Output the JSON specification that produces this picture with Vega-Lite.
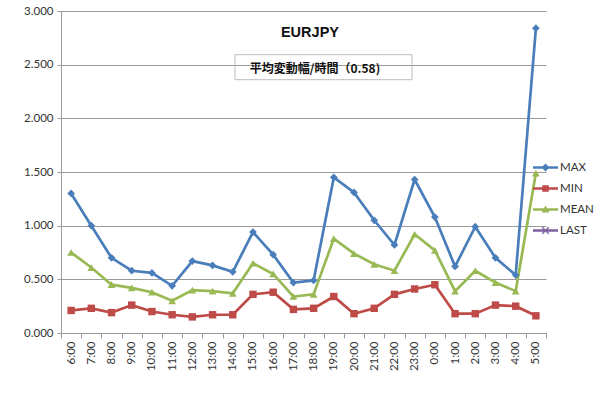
{
  "$schema": "https://vega.github.io/schema/vega-lite/v6.json",
  "autosize": {"type": "none"},
  "width": 485,
  "height": 322,
  "padding": {"left": 61, "top": 11, "right": 54, "bottom": 61},
  "background": "white",
  "config": {
    "view": {"stroke": null},
    "font": "Lato",
    "axis": {"labelFont": "Lato", "labelFontSize": 11.5, "labelColor": "#333333", "domainColor": "#9a9a9a", "tickColor": "#9a9a9a", "gridColor": "#9a9a9a", "title": null}
  },
  "data": {"name": "series", "values": [
    {"time": "6:00", "series": "MAX", "value": 1.30},
    {"time": "7:00", "series": "MAX", "value": 1.00},
    {"time": "8:00", "series": "MAX", "value": 0.70},
    {"time": "9:00", "series": "MAX", "value": 0.58},
    {"time": "10:00", "series": "MAX", "value": 0.56},
    {"time": "11:00", "series": "MAX", "value": 0.44},
    {"time": "12:00", "series": "MAX", "value": 0.67},
    {"time": "13:00", "series": "MAX", "value": 0.63},
    {"time": "14:00", "series": "MAX", "value": 0.57},
    {"time": "15:00", "series": "MAX", "value": 0.94},
    {"time": "16:00", "series": "MAX", "value": 0.73},
    {"time": "17:00", "series": "MAX", "value": 0.47},
    {"time": "18:00", "series": "MAX", "value": 0.49},
    {"time": "19:00", "series": "MAX", "value": 1.45},
    {"time": "20:00", "series": "MAX", "value": 1.31},
    {"time": "21:00", "series": "MAX", "value": 1.05},
    {"time": "22:00", "series": "MAX", "value": 0.82},
    {"time": "23:00", "series": "MAX", "value": 1.43},
    {"time": "0:00", "series": "MAX", "value": 1.08},
    {"time": "1:00", "series": "MAX", "value": 0.62},
    {"time": "2:00", "series": "MAX", "value": 0.99},
    {"time": "3:00", "series": "MAX", "value": 0.70},
    {"time": "4:00", "series": "MAX", "value": 0.54},
    {"time": "5:00", "series": "MAX", "value": 2.84},
    {"time": "6:00", "series": "MIN", "value": 0.21},
    {"time": "7:00", "series": "MIN", "value": 0.23},
    {"time": "8:00", "series": "MIN", "value": 0.19},
    {"time": "9:00", "series": "MIN", "value": 0.26},
    {"time": "10:00", "series": "MIN", "value": 0.20},
    {"time": "11:00", "series": "MIN", "value": 0.17},
    {"time": "12:00", "series": "MIN", "value": 0.15},
    {"time": "13:00", "series": "MIN", "value": 0.17},
    {"time": "14:00", "series": "MIN", "value": 0.17},
    {"time": "15:00", "series": "MIN", "value": 0.36},
    {"time": "16:00", "series": "MIN", "value": 0.38},
    {"time": "17:00", "series": "MIN", "value": 0.22},
    {"time": "18:00", "series": "MIN", "value": 0.23},
    {"time": "19:00", "series": "MIN", "value": 0.34},
    {"time": "20:00", "series": "MIN", "value": 0.18},
    {"time": "21:00", "series": "MIN", "value": 0.23},
    {"time": "22:00", "series": "MIN", "value": 0.36},
    {"time": "23:00", "series": "MIN", "value": 0.41},
    {"time": "0:00", "series": "MIN", "value": 0.45},
    {"time": "1:00", "series": "MIN", "value": 0.18},
    {"time": "2:00", "series": "MIN", "value": 0.18},
    {"time": "3:00", "series": "MIN", "value": 0.26},
    {"time": "4:00", "series": "MIN", "value": 0.25},
    {"time": "5:00", "series": "MIN", "value": 0.16},
    {"time": "6:00", "series": "MEAN", "value": 0.75},
    {"time": "7:00", "series": "MEAN", "value": 0.61},
    {"time": "8:00", "series": "MEAN", "value": 0.45},
    {"time": "9:00", "series": "MEAN", "value": 0.42},
    {"time": "10:00", "series": "MEAN", "value": 0.38},
    {"time": "11:00", "series": "MEAN", "value": 0.30},
    {"time": "12:00", "series": "MEAN", "value": 0.40},
    {"time": "13:00", "series": "MEAN", "value": 0.39},
    {"time": "14:00", "series": "MEAN", "value": 0.37},
    {"time": "15:00", "series": "MEAN", "value": 0.65},
    {"time": "16:00", "series": "MEAN", "value": 0.55},
    {"time": "17:00", "series": "MEAN", "value": 0.34},
    {"time": "18:00", "series": "MEAN", "value": 0.36},
    {"time": "19:00", "series": "MEAN", "value": 0.88},
    {"time": "20:00", "series": "MEAN", "value": 0.74},
    {"time": "21:00", "series": "MEAN", "value": 0.64},
    {"time": "22:00", "series": "MEAN", "value": 0.58},
    {"time": "23:00", "series": "MEAN", "value": 0.92},
    {"time": "0:00", "series": "MEAN", "value": 0.77},
    {"time": "1:00", "series": "MEAN", "value": 0.39},
    {"time": "2:00", "series": "MEAN", "value": 0.58},
    {"time": "3:00", "series": "MEAN", "value": 0.47},
    {"time": "4:00", "series": "MEAN", "value": 0.39},
    {"time": "5:00", "series": "MEAN", "value": 1.49}
  ]},
  "layer": [
    {
      "mark": {"type": "line", "strokeWidth": 2.7},
      "encoding": {
        "x": {"field": "time", "type": "nominal",
          "scale": {"type": "band", "paddingInner": 0, "paddingOuter": 0,
            "domain": ["6:00","7:00","8:00","9:00","10:00","11:00","12:00","13:00","14:00","15:00","16:00","17:00","18:00","19:00","20:00","21:00","22:00","23:00","0:00","1:00","2:00","3:00","4:00","5:00"]},
          "axis": {"labelAngle": 270, "tickBand": "extent", "tickSize": 5, "labelPadding": 3, "grid": false}},
        "y": {"field": "value", "type": "quantitative",
          "scale": {"domain": [0, 3], "nice": false},
          "axis": {"values": [0, 0.5, 1, 1.5, 2, 2.5, 3], "format": ".3f", "tickSize": 4, "labelPadding": 4, "grid": true}},
        "color": {"field": "series", "type": "nominal",
          "scale": {"domain": ["MAX", "MIN", "MEAN", "LAST"], "range": ["#4A7EBB", "#BE4B48", "#98B954", "#7D60A0"]},
          "legend": {
            "title": null, "orient": "none", "legendX": 472, "legendY": 144,
            "symbolSize": 625, "rowPadding": 3, "labelOffset": 2,
            "labelFont": "Lato", "labelFontSize": 11.5, "labelColor": "#333333",
            "encode": {"symbols": {"update": {
              "shape": {"signal": "datum.value == 'MAX' ? 'M-1,-0.1H1V0.1H-1Z M0,-0.32L0.32,0L0,0.32L-0.32,0Z' : datum.value == 'MIN' ? 'M-1,-0.1H1V0.1H-1Z M-0.26,-0.26H0.26V0.26H-0.26Z' : datum.value == 'MEAN' ? 'M-1,-0.1H1V0.1H-1Z M0,-0.32L0.32,0.24L-0.32,0.24Z' : 'M-1,-0.1H1V0.1H-1Z M-0.3,-0.22L-0.22,-0.3L0.3,0.22L0.22,0.3Z M0.22,-0.3L0.3,-0.22L-0.22,0.3L-0.3,0.22Z'"},
              "fill": {"signal": "scale('color', datum.value)"},
              "fillOpacity": {"value": 1},
              "strokeWidth": {"value": 0}
            }}},
            "labelLimit": 60
          }}
      }
    },
    {
      "transform": [{"filter": "datum.series == 'MAX'"}],
      "mark": {"type": "point", "filled": true, "size": 60, "opacity": 1, "shape": "diamond"},
      "encoding": {
        "x": {"field": "time", "type": "nominal"},
        "y": {"field": "value", "type": "quantitative"},
        "color": {"field": "series", "type": "nominal"}
      }
    },
    {
      "transform": [{"filter": "datum.series == 'MIN'"}],
      "mark": {"type": "point", "filled": true, "size": 55, "opacity": 1, "shape": "square"},
      "encoding": {
        "x": {"field": "time", "type": "nominal"},
        "y": {"field": "value", "type": "quantitative"},
        "color": {"field": "series", "type": "nominal"}
      }
    },
    {
      "transform": [{"filter": "datum.series == 'MEAN'"}],
      "mark": {"type": "point", "filled": true, "size": 60, "opacity": 1, "shape": "triangle-up"},
      "encoding": {
        "x": {"field": "time", "type": "nominal"},
        "y": {"field": "value", "type": "quantitative"},
        "color": {"field": "series", "type": "nominal"}
      }
    },
    {
      "data": {"values": [{}]},
      "mark": {"type": "rect", "fill": "white", "fillOpacity": 0, "stroke": "#bdbdbd", "strokeWidth": 1},
      "encoding": {
        "x": {"datum": "14:00", "type": "nominal", "bandPosition": 0.61},
        "x2": {"datum": "23:00", "bandPosition": 0.37},
        "y": {"datum": 2.593, "type": "quantitative"},
        "y2": {"datum": 2.36}
      }
    },
    {
      "data": {"values": [{"label": "平均変動幅/時間（0.58)"}]},
      "mark": {"type": "text", "font": "Noto Sans CJK JP", "fontSize": 12, "fontWeight": "bold", "color": "#111111", "align": "center", "baseline": "middle"},
      "encoding": {
        "x": {"datum": "18:00", "type": "nominal", "bandPosition": 0.57},
        "y": {"datum": 2.46, "type": "quantitative"},
        "text": {"field": "label"}
      }
    },
    {
      "data": {"values": [{"label": "EURJPY"}]},
      "mark": {"type": "text", "font": "Liberation Sans", "fontSize": 14.5, "fontWeight": "bold", "color": "#111111", "align": "center", "baseline": "middle"},
      "encoding": {
        "x": {"datum": "18:00", "type": "nominal", "bandPosition": 0.32},
        "y": {"datum": 2.795, "type": "quantitative"},
        "text": {"field": "label"}
      }
    }
  ]
}
